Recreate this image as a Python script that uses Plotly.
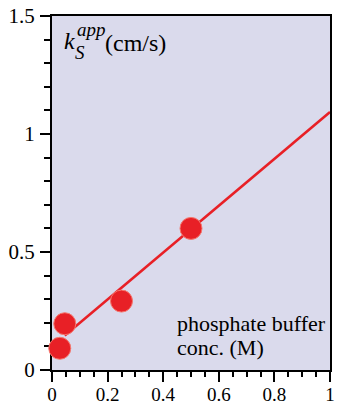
import plotly.graph_objects as go

# Data
conc = [0.028, 0.046, 0.25, 0.5]
k_app = [0.092, 0.196, 0.292, 0.60]
fit_x = [0.046, 1.0]
fit_y = [0.146, 1.093]

x_ticks = [0, 0.2, 0.4, 0.6, 0.8, 1]
x_ticklabels = ["0", "0.2", "0.4", "0.6", "0.8", "1"]
y_ticks = [0, 0.5, 1, 1.5]
y_ticklabels = ["0", "0.5", "1", "1.5"]

RED = "rgb(232,32,38)"
FONT = "Liberation Serif, Times New Roman, serif"

fig = go.Figure()
fig.add_trace(go.Scatter(x=fit_x, y=fit_y, mode="lines",
                         line=dict(color=RED, width=2.5),
                         hoverinfo="skip", showlegend=False))
fig.add_trace(go.Scatter(x=conc, y=k_app, mode="markers",
                         marker=dict(color=RED, size=22,
                                     line=dict(color="rgb(245,120,110)", width=1)),
                         cliponaxis=False, showlegend=False))

axis_common = dict(showgrid=False, zeroline=False, showline=True,
                   linecolor="black", linewidth=2, mirror=True,
                   ticks="outside", tickcolor="black", tickwidth=2,
                   ticklen=10, layer="below traces", automargin=False)

fig.update_xaxes(range=[0, 1], tickvals=x_ticks, ticktext=x_ticklabels,
                 minor=dict(dtick=0.05, ticks="outside", ticklen=5,
                            tickwidth=1.5, tickcolor="black", showgrid=False),
                 ticklabelstandoff=-4,
                 tickfont=dict(family=FONT, size=19, color="black"),
                 **axis_common)
fig.update_yaxes(range=[0, 1.5], tickvals=y_ticks, ticktext=y_ticklabels,
                 minor=dict(dtick=0.1, ticks="outside", ticklen=6,
                            tickwidth=1.5, tickcolor="black", showgrid=False),
                 ticklabelstandoff=1,
                 tickfont=dict(family=FONT, size=21, color="black"),
                 **axis_common)

big = dict(family=FONT, size=24, color="black")
mid = dict(family=FONT, size=22, color="black")
small = dict(family=FONT, size=19, color="black")
annotations = [
    dict(text="<i>k</i>", x=63, y=41, font=big),
    dict(text="<i>app</i>", x=76, y=30, font=small),
    dict(text="<i>S</i>", x=74, y=53, font=small),
    dict(text="(cm/s)", x=104, y=43, font=big),
    dict(text="phosphate buffer", x=176, y=323, font=mid),
    dict(text="conc. (M)", x=176, y=347, font=mid),
]
W, H = 338, 406
L, R, T, B = 52, 8, 16, 36
for a in annotations:
    fig.add_annotation(text=a["text"], xref="paper", yref="paper",
                       x=(a["x"] - L) / (W - L - R),
                       y=(H - B - a["y"]) / (H - T - B),
                       xanchor="left", yanchor="middle", showarrow=False,
                       align="left", font=a["font"], borderpad=0)

fig.update_layout(width=W, height=H,
                  margin=dict(l=L, r=R, t=T, b=B),
                  plot_bgcolor="rgb(218,218,236)", paper_bgcolor="white",
                  showlegend=False)

fig.write_html("out.html")
